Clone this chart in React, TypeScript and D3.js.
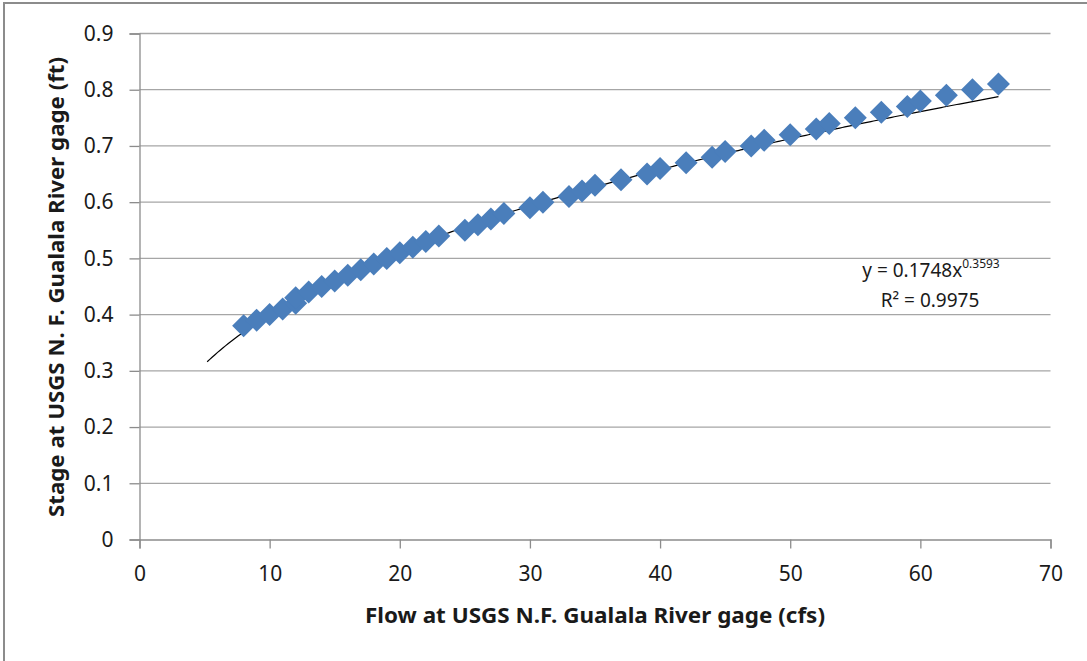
import React, {useEffect, useRef} from 'react';
import * as d3 from "d3"

// flow (cfs) and stage (ft)
const flow = [8, 9, 10, 11, 12, 12, 13, 14, 15, 16, 17, 18, 19, 20, 21, 22, 23,
    25, 26, 27, 28, 30, 31, 33, 34, 35, 37, 39, 40, 42, 44, 45, 47, 48, 50,
    52, 53, 55, 57, 59, 60, 62, 64, 66]
const stage = [0.38, 0.39, 0.40, 0.41, 0.42, 0.43, 0.44, 0.45, 0.46, 0.47, 0.48, 0.49, 0.50, 0.51, 0.52, 0.53, 0.54,
    0.55, 0.56, 0.57, 0.58, 0.59, 0.60, 0.61, 0.62, 0.63, 0.64, 0.65, 0.66, 0.67, 0.68, 0.69, 0.70, 0.71, 0.72,
    0.73, 0.74, 0.75, 0.76, 0.77, 0.78, 0.79, 0.80, 0.81]
const xTicks = [0, 10, 20, 30, 40, 50, 60, 70]
const yTicks = [0, 0.1, 0.2, 0.3, 0.4, 0.5, 0.6, 0.7, 0.8, 0.9]
// power trendline as labelled on the chart
const trendCoef = 0.1748
const trendExp = 0.3593
const trendRange = [5.2, 66]

const width = 1087
const height = 661
const font = "'Noto Sans', sans-serif"

const App = () => {
    const svgRef = useRef(null)
    useEffect(() => {
        const svg = d3.select(svgRef.current)
        svg.selectAll("*").remove()

        const xScale = d3.scaleLinear().domain([0, 70]).range([139.5, 1050.5])
        const yScale = d3.scaleLinear().domain([0, 0.9]).range([539.5, 33.5])

        // outer frame
        svg.append("rect")
            .attr("x", 4).attr("y", 3)
            .attr("width", 1200).attr("height", 700)
            .attr("fill", "white")
            .attr("stroke", "#8c8c8c")
            .attr("stroke-width", 2)

        // gridlines
        svg.append("g")
            .selectAll("line")
            .data(yTicks.slice(1))
            .join("line")
            .attr("x1", xScale(0)).attr("x2", xScale(70))
            .attr("y1", d => yScale(d)).attr("y2", d => yScale(d))
            .attr("stroke", "#a6a6a6")
            .attr("stroke-width", 1.3)

        //axes
        const xAxis = d3.axisBottom(xScale)
            .tickValues(xTicks)
            .tickSize(9)
            .tickPadding(18)
            .tickFormat(d => String(d))
        const yAxis = d3.axisLeft(yScale)
            .tickValues(yTicks)
            .tickSize(10)
            .tickPadding(16)
            .tickFormat(d => d === 0 ? "0" : d3.format(".1f")(d))

        const gx = svg.append("g")
            .attr('transform', `translate(0, ${yScale(0)})`)
            .call(xAxis)
        const gy = svg.append("g")
            .attr('transform', `translate(${xScale(0)}, 0)`)
            .call(yAxis)
        for (const g of [gx, gy]) {
            g.select(".domain").attr("stroke", "#8c8c8c").attr("stroke-width", 1.3)
            g.selectAll(".tick line").attr("stroke", "#8c8c8c").attr("stroke-width", 1.3)
            g.selectAll(".tick text")
                .attr("fill", "#1a1a1a")
                .style("font-family", font)
                .style("font-size", "21px")
        }

        // trendline
        const trend = d3.range(trendRange[0], trendRange[1] + 0.001, 0.2)
            .map(x => [x, trendCoef * Math.pow(x, trendExp)])
        const line = d3.line()
            .x(d => xScale(d[0]))
            .y(d => yScale(d[1]))
        svg.append("path")
            .attr("d", line(trend))
            .attr("fill", "none")
            .attr("stroke", "#000")
            .attr("stroke-width", 1.2)

        // diamonds
        const r = 11.5
        svg.append("g")
            .selectAll("path")
            .data(flow.map((f, i) => [f, stage[i]]))
            .join("path")
            .attr("d", d => {
                const cx = xScale(d[0]), cy = yScale(d[1])
                return `M${cx},${cy - r}L${cx + r},${cy}L${cx},${cy + r}L${cx - r},${cy}Z`
            })
            .attr("fill", "#4a7ebb")

        // equation
        const eq = svg.append("text")
            .attr("x", 931).attr("y", 277)
            .attr("text-anchor", "middle")
            .style("font-family", font)
            .style("font-size", "19px")
            .attr("fill", "#1a1a1a")
        eq.append("tspan").text("y = 0.1748x")
        eq.append("tspan").attr("dy", -9).style("font-size", "12px").text("0.3593")
        svg.append("text")
            .attr("x", 930).attr("y", 307)
            .attr("text-anchor", "middle")
            .style("font-family", font)
            .style("font-size", "19px")
            .attr("fill", "#1a1a1a")
            .text("R² = 0.9975")

        // axis titles
        svg.append("text")
            .attr("x", 595).attr("y", 623)
            .attr("text-anchor", "middle")
            .attr("textLength", 460)
            .attr("lengthAdjust", "spacingAndGlyphs")
            .style("font-family", font)
            .style("font-size", "21px")
            .style("font-weight", "bold")
            .attr("fill", "#1a1a1a")
            .text("Flow at USGS N.F. Gualala River gage (cfs)")
        svg.append("text")
            .attr("transform", `translate(64, 287) rotate(-90)`)
            .attr("text-anchor", "middle")
            .attr("textLength", 460)
            .attr("lengthAdjust", "spacingAndGlyphs")
            .style("font-family", font)
            .style("font-size", "21px")
            .style("font-weight", "bold")
            .attr("fill", "#1a1a1a")
            .text("Stage at USGS N. F. Gualala River gage (ft)")
    }, [])

    return (
        <svg ref={svgRef} width={width} height={height}
             style={{position: "absolute", left: 0, top: 0, background: "white"}}>
        </svg>
    );
};

export default App;
